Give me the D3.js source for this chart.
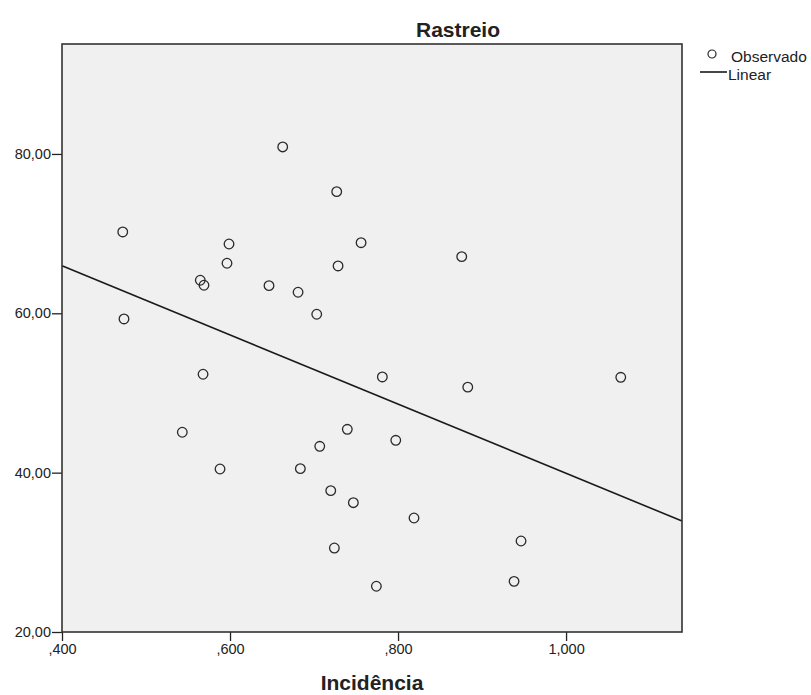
<!DOCTYPE html>
<html>
<head>
<meta charset="utf-8">
<script src="https://cdn.jsdelivr.net/npm/d3@7/dist/d3.min.js"></script>
<style>
  body { margin: 0; background: #fff; }
  text { font-family: "Liberation Sans", Arial, sans-serif; fill: #222; }
</style>
</head>
<body>
<svg id="chart" width="811" height="695"></svg>
<script>
var incidencia = [0.4723, 0.4738, 0.5432, 0.5646, 0.5690, 0.5679, 0.5881, 0.5988,
  0.5964, 0.6464, 0.6627, 0.6810, 0.7032, 0.6837, 0.7068, 0.7199, 0.7242, 0.7270,
  0.7286, 0.7396, 0.7468, 0.7560, 0.7742, 0.7813, 0.7973, 0.8190, 0.8758, 0.8830,
  0.9381, 0.9464, 1.0651];
var rastreio = [70.21, 59.29, 45.07, 64.15, 63.52, 52.35, 40.46, 68.70,
  66.28, 63.47, 80.88, 62.64, 59.88, 40.50, 43.31, 37.74, 30.54, 75.27,
  65.94, 45.44, 36.23, 68.86, 25.74, 52.01, 44.06, 34.31, 67.11, 50.73,
  26.36, 31.42, 51.97];

// linear fit as drawn (intercept, slope)
var fitIntercept = 83.33;
var fitSlope = -43.41;

var xDomain = [0.4, 1.138];
var yDomain = [20, 93.8];
var xTicks = [0.4, 0.6, 0.8, 1.0];
var yTicks = [20, 40, 60, 80];
var legendItems = ['Observado', 'Linear'];

var margin = { top: 44, right: 129, bottom: 63, left: 62 };
var svg = d3.select('#chart');
var width = +svg.attr('width') - margin.left - margin.right,
  height = +svg.attr('height') - margin.top - margin.bottom;

var x = d3.scaleLinear().domain(xDomain).range([0, width]);
var y = d3.scaleLinear().domain(yDomain).range([height, 0]);

var g = svg.append('g')
  .attr('transform', 'translate(' + margin.left + ',' + margin.top + ')');

// plot background
g.append('rect')
  .attr('width', width)
  .attr('height', height)
  .attr('fill', '#f0f0f0');

var fmtX = function (d) {
  // SPSS style: ,400 / 1,000
  var s = d3.format('.3f')(d).replace('.', ',');
  return s.indexOf('0,') === 0 ? s.slice(1) : s;
};
var fmtY = function (d) { return d3.format('.2f')(d).replace('.', ','); };

var xAxis = g.append('g')
  .attr('transform', 'translate(0,' + height + ')')
  .call(d3.axisBottom(x).tickValues(xTicks).tickFormat(fmtX).tickSize(9).tickPadding(3));
var yAxis = g.append('g')
  .call(d3.axisLeft(y).tickValues(yTicks).tickFormat(fmtY).tickSize(10).tickPadding(1));

[xAxis, yAxis].forEach(function (a) {
  a.select('.domain').remove();
  a.selectAll('line').attr('stroke', '#222').attr('stroke-width', 1.3);
  a.selectAll('text')
    .style('font-family', '"Liberation Sans", Arial, sans-serif')
    .style('font-size', '14.5px')
    .attr('fill', '#222');
});

// fit line
var fitLine = d3.line()
  .x(function (d) { return x(d); })
  .y(function (d) { return y(fitIntercept + fitSlope * d); });
g.append('path')
  .datum(xDomain)
  .attr('d', fitLine)
  .attr('fill', 'none')
  .attr('stroke', '#1a1a1a')
  .attr('stroke-width', 1.6);

// observed points
g.selectAll('circle.obs')
  .data(incidencia)
  .enter()
  .append('circle')
  .attr('class', 'obs')
  .attr('cx', function (d) { return x(d); })
  .attr('cy', function (d, i) { return y(rastreio[i]); })
  .attr('r', 4.8)
  .attr('fill', 'none')
  .attr('stroke', '#2a2a2a')
  .attr('stroke-width', 1.3);

// frame
g.append('rect')
  .attr('width', width)
  .attr('height', height)
  .attr('fill', 'none')
  .attr('stroke', '#333')
  .attr('stroke-width', 1.6);

// titles
svg.append('text')
  .attr('x', 458)
  .attr('y', 37)
  .attr('text-anchor', 'middle')
  .style('font-size', '21px')
  .style('font-weight', 'bold')
  .text('Rastreio');

svg.append('text')
  .attr('x', margin.left + width / 2)
  .attr('y', 690)
  .attr('text-anchor', 'middle')
  .style('font-size', '21px')
  .style('font-weight', 'bold')
  .text('Incidência');

// legend
var lg = svg.append('g').attr('transform', 'translate(' + (margin.left + width + 18) + ',54)');
lg.append('circle')
  .attr('cx', 12)
  .attr('cy', 0)
  .attr('r', 4)
  .attr('fill', 'none')
  .attr('stroke', '#2a2a2a')
  .attr('stroke-width', 1.2);
lg.append('line')
  .attr('x1', 0).attr('x2', 27)
  .attr('y1', 18).attr('y2', 18)
  .attr('stroke', '#1a1a1a')
  .attr('stroke-width', 1.6);
lg.selectAll('text.leg')
  .data(legendItems)
  .enter()
  .append('text')
  .attr('class', 'leg')
  .attr('x', function (d, i) { return i === 0 ? 31 : 28; })
  .attr('y', function (d, i) { return i * 18 + 8; })
  .style('font-size', '15.5px')
  .text(function (d) { return d; });
</script>
</body>
</html>
